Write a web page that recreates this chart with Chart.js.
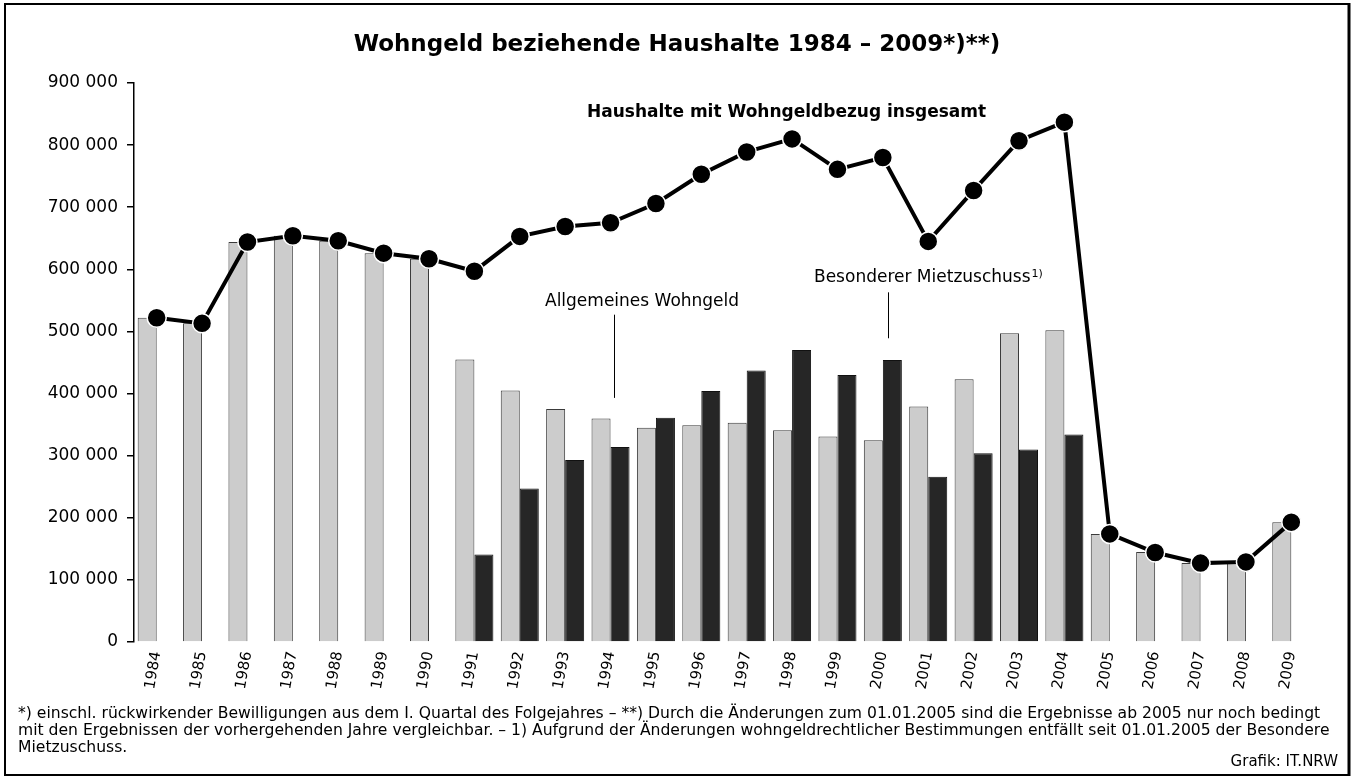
<!DOCTYPE html>
<html lang="de">
<head>
<meta charset="utf-8">
<title>Wohngeld beziehende Haushalte 1984 – 2009</title>
<script src="https://cdn.jsdelivr.net/npm/chart.js@4.4.1/dist/chart.umd.min.js"></script>
<style>
  html, body { margin: 0; padding: 0; background: #fff; }
  canvas { display: block; }
</style>
</head>
<body>
<canvas id="chart" width="1354" height="778"></canvas>
<script>
// Jahre
const years = ['1984', '1985', '1986', '1987', '1988', '1989', '1990', '1991', '1992', '1993',
  '1994', '1995', '1996', '1997', '1998', '1999', '2000', '2001', '2002', '2003',
  '2004', '2005', '2006', '2007', '2008', '2009'];

// Allgemeines Wohngeld (helle Säulen)
const allgemeinesWohngeld = [522000, 513000, 644000, 654000, 646000, 626000, 617000, 455000, 405000, 375000,
  360000, 345000, 349000, 353000, 341000, 331000, 325000, 379000, 423000, 497000,
  502000, 174000, 145000, 127000, 127000, 193000];

// Besonderer Mietzuschuss (dunkle Säulen), nur 1991 – 2004
const besondererMietzuschuss = [null, null, null, null, null, null, null, 141000, 247000, 293000,
  314000, 361000, 404000, 437000, 470000, 430000, 454000, 266000, 304000, 310000,
  334000, null, null, null, null, null];

// Haushalte mit Wohngeldbezug insgesamt (Linie)
const insgesamt = [522000, 513000, 644000, 654000, 646000, 626000, 617000, 597000, 653000, 669000,
  675000, 706000, 753000, 789000, 810000, 761000, 780000, 645000, 727000, 807000,
  837000, 174000, 144000, 127000, 129000, 193000];

const yTicks = [0, 100000, 200000, 300000, 400000, 500000, 600000, 700000, 800000, 900000];

const FONT = '"DejaVu Sans", "Open Sans", sans-serif';

const fmt = v => String(v).replace(/\B(?=(\d{3})+(?!\d))/g, ' ');

// Titel, Beschriftungen, Fußnoten und Rahmen
const decorations = {
  id: 'decorations',
  beforeDraw(chart) {
    const ctx = chart.ctx;
    ctx.save();
    ctx.fillStyle = '#fff';
    ctx.fillRect(0, 0, chart.width, chart.height);
    ctx.restore();
  },
  afterDraw(chart) {
    const ctx = chart.ctx;
    const x = chart.scales.x;
    const y = chart.scales.y;
    ctx.save();
    ctx.fillStyle = '#000';
    ctx.textBaseline = 'middle';

    // Titel
    ctx.font = 'bold 23px ' + FONT;
    ctx.textAlign = 'center';
    ctx.fillText('Wohngeld beziehende Haushalte 1984 – 2009*)**)', 677, 45);

    // Serienbeschriftungen
    ctx.textAlign = 'left';
    ctx.font = 'bold 17px ' + FONT;
    ctx.fillText('Haushalte mit Wohngeldbezug insgesamt', 587, 113);

    ctx.font = '17px ' + FONT;
    ctx.fillText('Allgemeines Wohngeld', 545, 302);
    ctx.fillText('Besonderer Mietzuschuss', 814, 278);
    const w = ctx.measureText('Besonderer Mietzuschuss').width;
    ctx.font = '11px ' + FONT;
    ctx.fillText('1)', 814 + w + 1, 274);

    // Hinweislinien
    ctx.strokeStyle = '#000';
    ctx.lineWidth = 1;
    const lx1 = Math.round(x.getPixelForValue(10)) + 3.5;
    ctx.beginPath();
    ctx.moveTo(lx1, y.getPixelForValue(527000));
    ctx.lineTo(lx1, y.getPixelForValue(393000));
    ctx.stroke();
    const lx2 = Math.round(x.getPixelForValue(16)) + 5.5;
    ctx.beginPath();
    ctx.moveTo(lx2, y.getPixelForValue(563000));
    ctx.lineTo(lx2, y.getPixelForValue(489000));
    ctx.stroke();

    // Fußnoten
    ctx.font = '15.6px ' + FONT;
    ctx.fillText('*) einschl. rückwirkender Bewilligungen aus dem I. Quartal des Folgejahres – **) Durch die Änderungen zum 01.01.2005 sind die Ergebnisse ab 2005 nur noch bedingt', 18, 714);
    ctx.fillText('mit den Ergebnissen der vorhergehenden Jahre vergleichbar. – 1) Aufgrund der Änderungen wohngeldrechtlicher Bestimmungen entfällt seit 01.01.2005 der Besondere', 18, 731);
    ctx.fillText('Mietzuschuss.', 18, 748);
    ctx.textAlign = 'right';
    ctx.font = '15px ' + FONT;
    ctx.fillText('Grafik: IT.NRW', 1338, 762);

    // Rahmen
    ctx.strokeStyle = '#000';
    ctx.lineWidth = 2;
    ctx.strokeRect(5, 4, 1344, 771);
    ctx.lineWidth = 3;
    ctx.beginPath();
    ctx.moveTo(1349, 3);
    ctx.lineTo(1349, 776);
    ctx.stroke();
    ctx.restore();
  }
};

new Chart(document.getElementById('chart'), {
  type: 'bar',
  data: {
    labels: years,
    datasets: [
      {
        type: 'line',
        label: 'Haushalte mit Wohngeldbezug insgesamt',
        data: insgesamt,
        borderColor: '#000',
        borderWidth: 4,
        pointRadius: 9.5,
        pointBackgroundColor: '#000',
        pointBorderColor: '#fff',
        pointBorderWidth: 1.5,
        tension: 0,
        order: 0
      },
      {
        label: 'Allgemeines Wohngeld',
        data: allgemeinesWohngeld,
        backgroundColor: '#cccccc',
        borderColor: '#3a3a3a',
        borderWidth: 1,
        categoryPercentage: 0.838,
        barPercentage: 1,
        order: 1
      },
      {
        label: 'Besonderer Mietzuschuss',
        data: besondererMietzuschuss,
        backgroundColor: '#262626',
        borderColor: '#111111',
        borderWidth: 1,
        categoryPercentage: 0.838,
        barPercentage: 1,
        order: 2
      }
    ]
  },
  options: {
    responsive: false,
    animation: false,
    layout: { padding: { top: 83, right: 40, bottom: 0, left: 0 } },
    plugins: {
      legend: { display: false },
      title: { display: false },
      tooltip: { enabled: false }
    },
    scales: {
      x: {
        grid: { display: false, drawTicks: false },
        border: { display: false },
        ticks: {
          color: '#000',
          font: { family: FONT, size: 15 },
          minRotation: 80,
          maxRotation: 80,
          padding: 8,
          autoSkip: false
        },
        afterFit: scale => { scale.height = 136; }
      },
      y: {
        min: 0,
        max: 900000,
        afterBuildTicks: scale => { scale.ticks = yTicks.map(v => ({ value: v })); },
        grid: { drawOnChartArea: false, tickLength: 7, color: '#000', lineWidth: 1.5 },
        border: { color: '#000', width: 1.5 },
        ticks: {
          color: '#000',
          font: { family: FONT, size: 17 },
          padding: 9,
          callback: v => fmt(v)
        },
        afterFit: scale => { scale.width = 134; }
      }
    }
  },
  plugins: [decorations]
});
</script>
</body>
</html>
